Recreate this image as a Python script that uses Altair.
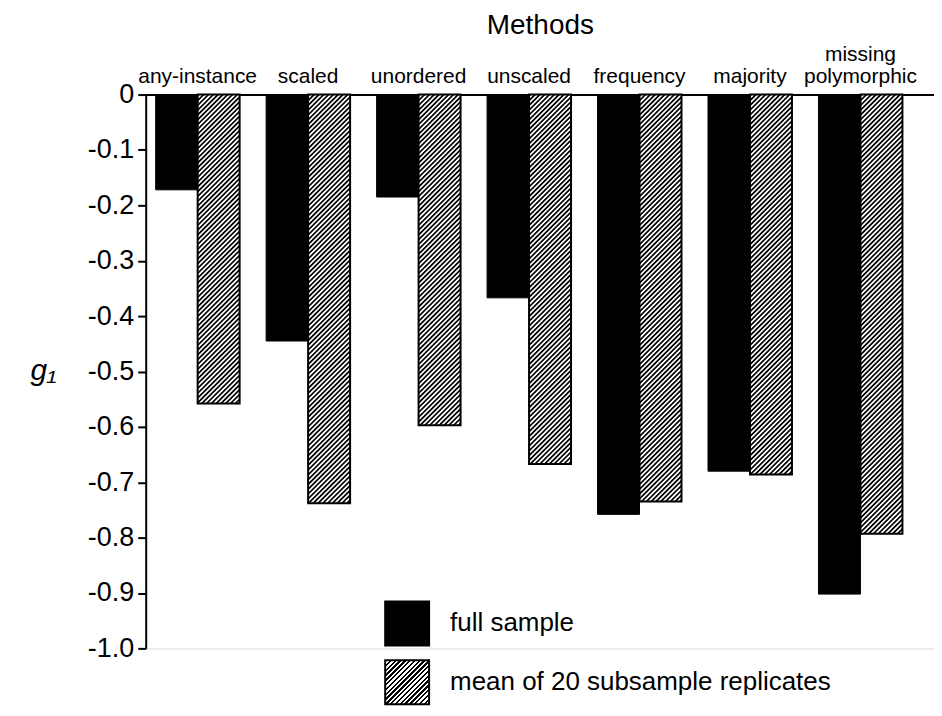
import json
import base64
import altair as alt
import pandas as pd

methods = ["any-instance", "scaled", "unordered", "unscaled", "frequency", "majority", "missing polymorphic"]
series = ["full sample", "mean of 20 subsample replicates"]
full_sample = [-0.172, -0.445, -0.185, -0.367, -0.758, -0.680, -0.902]
subsample_mean = [-0.558, -0.738, -0.597, -0.667, -0.735, -0.686, -0.793]
y_ticks = [-1.0, -0.9, -0.8, -0.7, -0.6, -0.5, -0.4, -0.3, -0.2, -0.1, 0.0]

FONT = "Liberation Sans"
W, H = 790, 555
P_INNER, P_OUTER, ALIGN = 0.24, 0.188, 0.24
PITCH = 3.4  # hatch pitch, perpendicular to the stripes (px)

rows = []
for m, a, b in zip(methods, full_sample, subsample_mean):
    rows.append({"method": m, "series": series[0], "value": a})
    rows.append({"method": m, "series": series[1], "value": b})
df = pd.DataFrame(rows)

# pixel size of one bar (for the hatch geometry)
step = W / (len(methods) - P_INNER + 2 * P_OUTER)
bar_w = step * (1 - P_INNER) / 2


def hatch_uri(w, h):
    svg = (
        f"<svg xmlns='http://www.w3.org/2000/svg' width='{w:.3f}' height='{h:.3f}'>"
        f"<defs><pattern id='p' width='{PITCH}' height='{PITCH}' patternUnits='userSpaceOnUse' "
        f"patternTransform='rotate(45)'><rect width='{PITCH / 2}' height='{PITCH}' fill='black'/></pattern></defs>"
        "<rect width='100%' height='100%' fill='white'/><rect width='100%' height='100%' fill='url(#p)'/></svg>"
    )
    return "data:image/svg+xml;base64," + base64.b64encode(svg.encode()).decode()


def hatch_gradient(w, h, period, frac=0.5):
    s = (w + h) * h / (w * w + h * h)
    n = (w + h) / period
    stops = []
    k = 0
    while k < n:
        a = k / n
        b = min((k + frac) / n, 1.0)
        c = min((k + 1) / n, 1.0)
        stops += [
            {"offset": round(a, 5), "color": "black"},
            {"offset": round(b, 5), "color": "black"},
            {"offset": round(b, 5), "color": "white"},
            {"offset": round(c, 5), "color": "white"},
        ]
        k += 1
    return {"gradient": "linear", "x1": 0, "y1": 0, "x2": round(w / h * s, 5), "y2": round(s, 5), "stops": stops}


x_enc = alt.X(
    "method:N",
    sort=methods,
    scale=alt.Scale(domain=methods, paddingInner=P_INNER, paddingOuter=P_OUTER, align=ALIGN),
    axis=alt.Axis(
        orient="top",
        title="Methods",
        titleFontSize=28,
        titleFontWeight="normal",
        titlePadding=4,
        labelFontSize=21,
        labelAngle=0,
        labelPadding=30,
        labelLineHeight=22,
        labelExpr="datum.label == 'missing polymorphic' ? ['missing', 'polymorphic'] : ['', datum.label]",
        ticks=False,
        domainColor="black",
        domainWidth=2,
        labelColor="black",
        titleColor="black",
    ),
)
xoff_enc = alt.XOffset("series:N", sort=series, scale=alt.Scale(domain=series))
y_enc = alt.Y(
    "value:Q",
    scale=alt.Scale(domain=[-1, 0], nice=False),
    axis=alt.Axis(
        values=y_ticks,
        labelExpr="datum.value == 0 ? '0' : '-' + format(abs(datum.value), '.1f')",
        labelFontSize=27,
        labelPadding=4,
        labelColor="black",
        tickSize=8,
        tickWidth=2,
        tickColor="black",
        domainColor="black",
        domainWidth=2,
        grid=False,
        title="g₁",
        titleAngle=0,
        titleFontSize=30,
        titleFontStyle="italic",
        titleFontWeight="normal",
        titleColor="black",
        titleAlign="center",
        titleBaseline="middle",
        titleX=-103,
        titleY=277,
    ),
)

legend_hatch_expr = json.dumps(hatch_gradient(44, 44, PITCH * 2 ** 0.5))
black_layer = (
    alt.Chart(df)
    .transform_filter(alt.datum.series == series[0])
    .mark_bar(stroke="black", strokeWidth=1)
    .encode(
        x=x_enc,
        xOffset=xoff_enc,
        y=y_enc,
        fill=alt.Fill(
            "series:N",
            scale=alt.Scale(domain=series, range=["black", alt.ExprRef(expr=legend_hatch_expr)]),
            legend=alt.Legend(
                title=None,
                orient="none",
                legendX=239,
                legendY=507,
                symbolType="square",
                symbolSize=1936,
                symbolStrokeWidth=2,
                symbolStrokeColor="black",
                labelFontSize=26,
                labelColor="black",
                labelOffset=20,
                labelLimit=600,
                rowPadding=7,
                padding=0,
            ),
        ),
    )
)

layers = [black_layer]
for m, v in zip(methods, subsample_mean):
    h = abs(v) * H
    layers.append(
        alt.Chart(df)
        .transform_filter((alt.datum.series == series[1]) & (alt.datum.method == m))
        .mark_image(url=hatch_uri(bar_w, h), aspect=False)
        .encode(x=x_enc, xOffset=xoff_enc, y=y_enc, y2=alt.Y2Datum(0))
    )

outline_layer = (
    alt.Chart(df)
    .transform_filter(alt.datum.series == series[1])
    .mark_bar(fillOpacity=0, stroke="black", strokeWidth=2)
    .encode(x=x_enc, xOffset=xoff_enc, y=y_enc)
)
layers.append(outline_layer)

chart = (
    alt.layer(*layers)
    .properties(width=W, height=H, padding={"left": 21, "top": 3, "right": 0, "bottom": 0})
    .configure_view(stroke=None)
    .configure(font=FONT)
)

chart.save("out.html", embed_options={"renderer": "svg", "actions": False})
